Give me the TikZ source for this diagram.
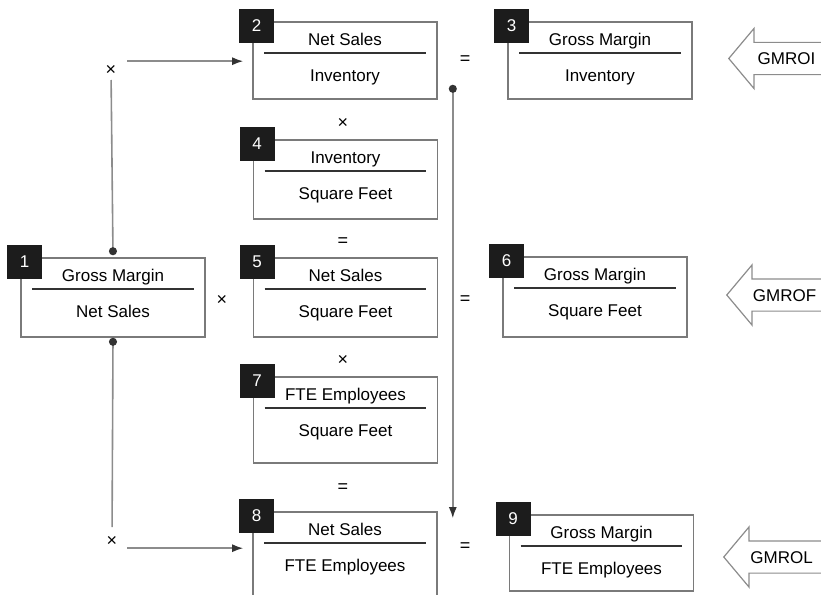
\documentclass[tikz,border=0pt]{standalone}
\usepackage{fontspec}
\setmainfont{Liberation Sans}
\usetikzlibrary{arrows.meta,shapes.arrows,positioning}
\definecolor{boxgray}{HTML}{7A7A7A}
\definecolor{rulegray}{HTML}{333333}
\definecolor{badgeblack}{HTML}{1C1C1C}
\definecolor{linkgray}{HTML}{8C8C8C}
\tikzset{
  ratio/.style    = {draw=boxgray, line width=1.6pt, fill=white, minimum width=184pt, inner sep=0pt},
  badge/.style    = {fill=badgeblack, text=white, minimum width=35pt, minimum height=34pt, inner sep=0pt,
                     font=\fontsize{17}{20}\selectfont},
  term/.style     = {anchor=base, inner sep=0pt, font=\fontsize{17}{20}\selectfont},
  fracline/.style = {draw=rulegray, line width=2.5pt},
  op/.style       = {inner sep=0pt, font=\fontsize{18}{20}\selectfont},
  link/.style     = {draw=linkgray, line width=1.6pt},
  dotend/.tip     = {Circle[length=8pt,color=rulegray]},
  headend/.tip    = {Latex[length=11pt,width=8pt,color=rulegray]},
  tag/.style      = {single arrow, draw=linkgray, line width=1.2pt, fill=white, shape border rotate=180,
                     single arrow head extend=14pt, single arrow tip angle=100, minimum height=102pt,
                     inner ysep=9.5pt, text height=12pt, text depth=0pt, anchor=tip,
                     font=\fontsize{17}{20}\selectfont}
}
\begin{document}
\begin{tikzpicture}[x=1pt,y=-1pt]
\useasboundingbox (0,0) rectangle (821,594);
\clip (0,0) rectangle (821,594);
\foreach \i/\x/\y/\h/\top/\bot in {
    1/113/297.5/79/Gross Margin/Net Sales,
    2/345/60.5/77/Net Sales/Inventory,
    3/600/60.5/77/Gross Margin/Inventory,
    4/345.5/179.5/79/Inventory/Square Feet,
    5/345.5/297.5/79/Net Sales/Square Feet,
    6/595/297/80/Gross Margin/Square Feet,
    7/345.5/420/86/FTE Employees/Square Feet,
    8/345/557/90/Net Sales/FTE Employees,
    9/601.5/553/76/Gross Margin/FTE Employees}{
  \node[ratio, minimum height=\h pt] (b\i) at (\x,\y) {};
  \node[badge] (n\i) at ([shift={(4.5pt,-4.5pt)}]b\i.north west) {\i};
  \node[term] (t\i) at ([yshift=-24pt]b\i.north) {\top};
  \node[term] (d\i) at ([yshift=-60pt]b\i.north) {\bot};
  \draw[fracline] ([shift={(12pt,-32pt)}]b\i.north west) -- ([shift={(-12pt,-32pt)}]b\i.north east);
}

\node[op] (times1) at (111,70) {×};
\node[op] (eq1) at (465,60) {=};
\node[op] (times2) at (343,123) {×};
\node[op] (eq2) at (343,242) {=};
\node[op] (times3) at (222,300) {×};
\node[op] (eq3) at (465,300) {=};
\node[op] (times4) at (343,360) {×};
\node[op] (eq4) at (343,488) {=};
\node[op] (times5) at (112,541) {×};
\node[op] (eq5) at (465,547) {=};

\coordinate (in2) at ([shift={(-9pt,-40pt)}]b2.north west);
\coordinate (in8) at ([shift={(-9pt,-37pt)}]b8.north west);
\draw[link, {dotend}-, shorten >=10pt] ([yshift=2pt]b1.north) -- (times1.center);
\draw[link, -{headend}, shorten <=16pt] (times1.center |- in2) -- (in2);
\draw[link, {dotend}-, shorten >=14pt] (b1.south) -- (times5.center);
\draw[link, -{headend}, shorten <=15pt] (times5.center |- in8) -- (in8);
\draw[link, {dotend}-{headend}] ([shift={(15pt,15pt)}]b2.south east) -- ([shift={(15pt,-7pt)}]b8.north east);

\node[tag] (gmroi) at (728,58.5) {GMROI};
\node[tag] (gmrof) at (726,295) {GMROF};
\node[tag] (gmrol) at (723,557) {GMROL};
\end{tikzpicture}
\end{document}
